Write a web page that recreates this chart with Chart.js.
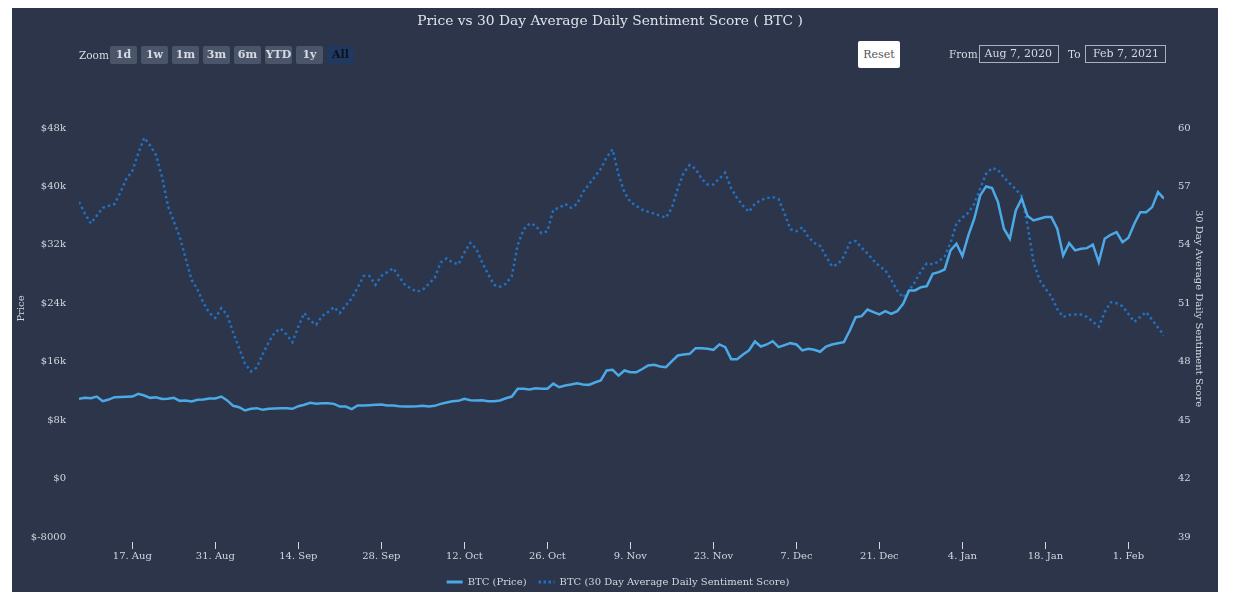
<!DOCTYPE html>
<html>
<head>
<meta charset="utf-8">
<title>Price vs 30 Day Average Daily Sentiment Score (BTC)</title>
<script src="https://cdn.jsdelivr.net/npm/chart.js@4.4.1/dist/chart.umd.min.js"></script>
<style>
  body { margin: 0; background: #fff; font-family: 'DejaVu Serif', serif; }
  #panel { position: absolute; left: 12px; top: 8px; width: 1206px; height: 584px; background: #2c3549; }
  #chart { position: absolute; left: 0; top: 0; }
  #title { position: absolute; left: 0; top: 12px; width: 1220px; text-align: center; color: #dfe3ea; font-size: 13.8px; }
  .lbl { position: absolute; color: #d6dae2; font-size: 10.5px; line-height: 18px; }
  .btn { position: absolute; top: 46px; width: 27px; height: 18px; line-height: 18px; text-align: center;
         background: #4b5569; color: #d6dae2; font-size: 11px; font-weight: bold; border-radius: 2px; }
  .btn.on { background: #21395f; color: #0d1220; }
  #reset { position: absolute; left: 858px; top: 41px; width: 42px; height: 27px; line-height: 27px; text-align: center;
           background: #fff; color: #555; font-size: 11px; border-radius: 2px; }
  .box { position: absolute; top: 45px; height: 16px; line-height: 16px; border: 1px solid #aab1bd; color: #d6dae2;
         font-size: 11px; text-align: right; padding-right: 6px; box-sizing: content-box; }
</style>
</head>
<body>
<div id="panel"></div>
<canvas id="chart" width="1236" height="601"></canvas>
<div id="title">Price vs 30 Day Average Daily Sentiment Score ( BTC )</div>
<div class="lbl" style="left:79px;top:46px">Zoom</div>
<div class="btn" style="left:110px">1d</div>
<div class="btn" style="left:141px">1w</div>
<div class="btn" style="left:172px">1m</div>
<div class="btn" style="left:203px">3m</div>
<div class="btn" style="left:234px">6m</div>
<div class="btn" style="left:265px">YTD</div>
<div class="btn" style="left:296px">1y</div>
<div class="btn on" style="left:327px">All</div>
<div id="reset">Reset</div>
<div class="lbl" style="left:949px;top:45px">From</div>
<div class="box" style="left:979px;width:72px">Aug 7, 2020</div>
<div class="lbl" style="left:1068px;top:45px">To</div>
<div class="box" style="left:1085px;width:73px">Feb 7, 2021</div>
<script>
// daily values, first one is 8 Aug 2020
const startDate = '2020-08-08';

const priceValues = [
  10920, 11060, 11000, 11230, 10600, 10820, 11140, 11170, 11200, 11230,
  11600, 11370, 11050, 11140, 10900, 10920, 11050, 10640, 10690, 10550,
  10780, 10820, 10960, 10960, 11230, 10700, 9960, 9770, 9320, 9550,
  9640, 9410, 9550, 9600, 9620, 9640, 9550, 9910, 10100, 10370,
  10230, 10300, 10320, 10230, 9860, 9860, 9500, 10000, 10000, 10050,
  10100, 10140, 10000, 10000, 9910, 9860, 9860, 9900, 9960, 9860,
  9960, 10230, 10410, 10590, 10640, 10920, 10730, 10690, 10730, 10590,
  10590, 10690, 11000, 11230, 12290, 12290, 12200, 12370, 12290, 12290,
  13000, 12510, 12740, 12870, 13060, 12870, 12830, 13150, 13430, 14800,
  14890, 14100, 14800, 14560, 14560, 15000, 15480, 15570, 15350, 15250,
  16070, 16850, 16990, 17080, 17850, 17850, 17770, 17630, 18360, 17990,
  16350, 16350, 16990, 17540, 18770, 18080, 18360, 18810, 17990, 18270,
  18540, 18360, 17540, 17770, 17630, 17360, 18080, 18360, 18540, 18670,
  20280, 22100, 22240, 23150, 22780, 22470, 22920, 22560, 22920, 23930,
  25760, 25760, 26210, 26350, 28040, 28260, 28630, 31240, 32150, 30460,
  33290, 35580, 38770, 40000, 39770, 37850, 34210, 32840, 36720, 38320,
  35940, 35350, 35580, 35800, 35800, 34210, 30550, 32240, 31240, 31470,
  31550, 32020, 29630, 32840, 33380, 33740, 32370, 32970, 34890, 36480,
  36480, 37170, 39220, 38320
];

const sentimentValues = [
  56.2, 55.6, 55.1, 55.5, 55.9, 56.0, 56.1, 56.7, 57.4, 57.8,
  58.7, 59.5, 59.1, 58.6, 57.5, 56.0, 55.2, 54.4, 53.3, 52.2,
  51.7, 51.0, 50.5, 50.25, 50.75, 50.4, 49.5, 48.7, 47.9, 47.5,
  47.7, 48.4, 49.0, 49.5, 49.7, 49.4, 49.0, 49.8, 50.5, 50.1,
  49.9, 50.35, 50.55, 50.8, 50.5, 50.9, 51.25, 51.8, 52.4, 52.4,
  51.95, 52.4, 52.6, 52.8, 52.35, 51.95, 51.75, 51.6, 51.7, 52.0,
  52.3, 53.1, 53.3, 53.1, 53.0, 53.6, 54.1, 53.8, 53.1, 52.5,
  51.95, 51.85, 52.0, 52.4, 54.0, 54.8, 55.1, 55.0, 54.6, 54.7,
  55.8, 55.9, 56.1, 55.9, 56.1, 56.7, 57.1, 57.5, 57.9, 58.5,
  58.9, 57.6, 56.7, 56.2, 56.0, 55.8, 55.7, 55.6, 55.5, 55.4,
  55.9, 56.9, 57.7, 58.1, 57.9, 57.4, 57.1, 57.1, 57.4, 57.7,
  56.9, 56.4, 56.0, 55.7, 56.1, 56.3, 56.4, 56.45, 56.35, 55.6,
  54.8, 54.7, 54.9, 54.4, 54.1, 53.95, 53.4, 52.9, 53.0, 53.4,
  54.1, 54.2, 53.85, 53.55, 53.2, 52.9, 52.7, 52.2, 51.65, 51.3,
  51.65, 52.1, 52.65, 53.05, 53.0, 53.15, 53.4, 54.1, 55.1, 55.4,
  55.65, 56.1, 56.9, 57.65, 57.95, 57.85, 57.45, 57.15, 56.85, 56.5,
  55.0, 53.1, 52.2, 51.75, 51.35, 50.7, 50.3, 50.4, 50.42, 50.42,
  50.3, 50.05, 49.8, 50.55, 51.05, 51.0, 50.85, 50.45, 50.05, 50.3,
  50.55, 50.15, 49.75, 49.35
];

const xTickDates = ['2020-08-17', '2020-08-31', '2020-09-14', '2020-09-28', '2020-10-12', '2020-10-26',
  '2020-11-09', '2020-11-23', '2020-12-07', '2020-12-21', '2021-01-04', '2021-01-18', '2021-02-01'];
const xTickLabels = ['17. Aug', '31. Aug', '14. Sep', '28. Sep', '12. Oct', '26. Oct',
  '9. Nov', '23. Nov', '7. Dec', '21. Dec', '4. Jan', '18. Jan', '1. Feb'];
const priceTickLabels = ['$-8000', '$0', '$8k', '$16k', '$24k', '$32k', '$40k', '$48k'];
const sentimentTickLabels = ['39', '42', '45', '48', '51', '54', '57', '60'];
const leftTitle = 'Price';
const rightTitle = '30 Day Average Daily Sentiment Score';

const DAY = 86400000;
const dayNum = s => Date.parse(s + 'T00:00:00Z') / DAY;
const firstDay = dayNum(startDate);

const priceData = priceValues.map((v, i) => ({ x: firstDay + i, y: v }));
const sentimentData = sentimentValues.map((v, i) => ({ x: firstDay + i, y: v }));

const textColor = '#d3d7df';
Chart.defaults.font.family = "'DejaVu Serif', serif";
Chart.defaults.font.size = 10;
Chart.defaults.color = textColor;

// axis titles sit a bit above the middle of the plot, like the original
const axisTitles = {
    id: 'axisTitles',
    afterDraw(chart) {
        const { ctx, chartArea } = chart;
        const midY = (chartArea.top + chartArea.bottom) / 2 - 24;
        ctx.save();
        ctx.fillStyle = textColor;
        ctx.font = "10px 'DejaVu Serif', serif";
        ctx.textAlign = 'center';
        ctx.textBaseline = 'middle';
        ctx.translate(21, midY);
        ctx.rotate(-Math.PI / 2);
        ctx.fillText(leftTitle, 0, 0);
        ctx.restore();
        ctx.save();
        ctx.fillStyle = textColor;
        ctx.font = "10px 'DejaVu Serif', serif";
        ctx.textAlign = 'center';
        ctx.textBaseline = 'middle';
        ctx.translate(chartArea.right + 35, midY);
        ctx.rotate(Math.PI / 2);
        ctx.fillText(rightTitle, 0, 0);
        ctx.restore();
    }
};

const ctx = document.getElementById('chart').getContext('2d');

const sentimentChart = new Chart(ctx, {
    type: 'line',
    data: {
        datasets: [{
            label: 'BTC (Price)',
            data: priceData,
            yAxisID: 'y',
            borderColor: '#4ba9e7',
            backgroundColor: '#4ba9e7',
            borderWidth: 2.5,
            pointRadius: 0,
            pointStyle: 'line',
            tension: 0
        }, {
            label: 'BTC (30 Day Average Daily Sentiment Score)',
            data: sentimentData,
            yAxisID: 'y1',
            borderColor: '#2170c4',
            backgroundColor: '#2170c4',
            borderWidth: 2.5,
            borderDash: [2.5, 3],
            pointRadius: 0,
            pointStyle: 'line',
            tension: 0
        }]
    },
    options: {
        responsive: false,
        animation: false,
        events: [],
        layout: { padding: { top: 128, bottom: 4, left: 0, right: 0 } },
        plugins: {
            legend: {
                position: 'bottom',
                labels: {
                    usePointStyle: true,
                    pointStyleWidth: 16,
                    boxHeight: 8,
                    padding: 12,
                    color: textColor,
                    font: { size: 10 },
                    // the point style has no dash of its own, so take it from the dataset
                    generateLabels: chart => {
                        const items = Chart.defaults.plugins.legend.labels.generateLabels(chart);
                        items.forEach(item => {
                            const ds = chart.data.datasets[item.datasetIndex];
                            item.lineDash = ds.borderDash ? [2.5, 2.5] : [];
                            item.lineWidth = 3;
                            item.strokeStyle = ds.borderColor;
                        });
                        return items;
                    }
                }
            },
            tooltip: { enabled: false }
        },
        scales: {
            x: {
                type: 'linear',
                min: firstDay,
                max: firstDay + priceValues.length - 1,
                afterBuildTicks: scale => {
                    scale.ticks = xTickDates.map(d => ({ value: dayNum(d) }));
                },
                afterFit: scale => { scale.height = 28; },
                ticks: {
                    autoSkip: false,
                    maxRotation: 0,
                    padding: 1,
                    color: textColor,
                    callback: (v, i) => xTickLabels[i]
                },
                grid: {
                    display: true,
                    drawOnChartArea: false,
                    tickLength: 12,
                    tickColor: '#d3d7df',
                    tickWidth: 1,
                    tickBorderDash: [0, 5, 7, 20]
                },
                border: { display: false }
            },
            y: {
                position: 'left',
                min: -8000,
                max: 48000,
                afterBuildTicks: scale => {
                    scale.ticks = priceTickLabels.map((t, i) => ({ value: -8000 + i * 8000 }));
                },
                afterFit: scale => { scale.width = 79; },
                ticks: {
                    padding: 13,
                    color: textColor,
                    callback: (v, i) => priceTickLabels[i]
                },
                grid: { display: false, drawTicks: false },
                border: { display: false }
            },
            y1: {
                position: 'right',
                min: 39,
                max: 60,
                afterBuildTicks: scale => {
                    scale.ticks = sentimentTickLabels.map(t => ({ value: Number(t) }));
                },
                afterFit: scale => { scale.width = 72; },
                ticks: {
                    padding: 14,
                    color: textColor,
                    callback: (v, i) => sentimentTickLabels[i]
                },
                grid: { display: false, drawTicks: false },
                border: { display: false }
            }
        }
    },
    plugins: [axisTitles]
});
</script>
</body>
</html>
